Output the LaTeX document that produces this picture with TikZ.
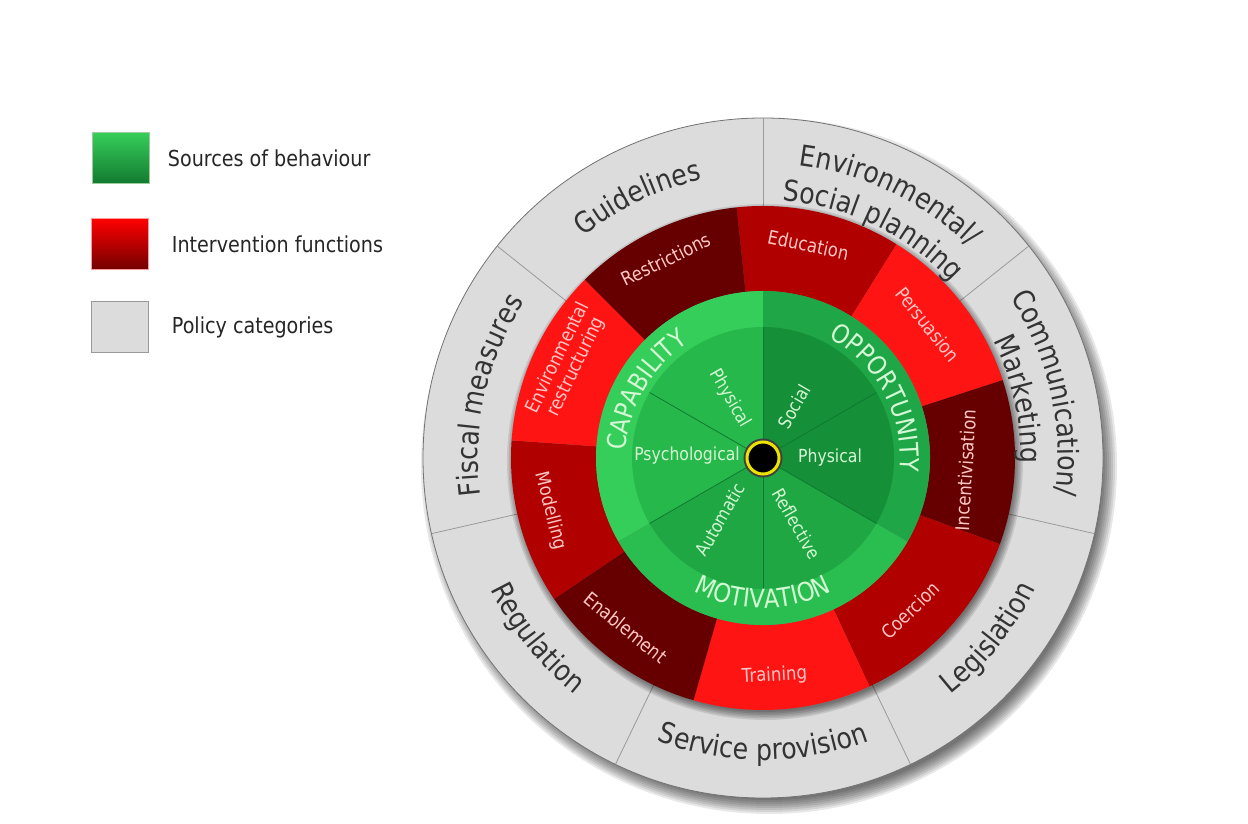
\documentclass[tikz,border=0pt]{standalone}
\usepackage{fontspec}
\setmainfont{DejaVu Sans}[FakeStretch=0.87]
\usepackage{xcolor}
\usepackage{tikz}
\usetikzlibrary{positioning,decorations.text}

\definecolor{polgray}{HTML}{DCDCDC}
\definecolor{polline}{HTML}{9A9A9A}
\definecolor{poltext}{HTML}{333333}
\definecolor{redB}{HTML}{FF1414}
\definecolor{redD}{HTML}{B00000}
\definecolor{redV}{HTML}{660000}
\definecolor{redtext}{HTML}{FFC6C6}
\definecolor{capband}{HTML}{36CE5A}
\definecolor{capin}{HTML}{27B84B}
\definecolor{oppband}{HTML}{1FA646}
\definecolor{oppin}{HTML}{168F39}
\definecolor{motband}{HTML}{2ABE50}
\definecolor{motin}{HTML}{1FA744}
\definecolor{greentext}{HTML}{D4F8D4}
\definecolor{greenline}{HTML}{0E7A30}

\newcommand{\poltxt}{\fontsize{29}{29}\selectfont\color{poltext}}
\newcommand{\srctxt}{\fontsize{26}{26}\selectfont\color{greentext}}

\begin{document}
\begin{tikzpicture}[x=1pt,y=1pt,
  arctext/.style={decorate,decoration={text along path,text align=center,text={#1}}},
  legbox/.style={minimum width=57pt,minimum height=51pt,inner sep=0pt,draw=#1},
  legtext/.style={text=black!85,font=\fontsize{22}{22}\selectfont,inner sep=0pt},
  fnlabel/.style={text=redtext,font=\fontsize{19}{20}\selectfont,align=center,inner sep=0pt},
  srclabel/.style={text=greentext,font=\fontsize{18}{18}\selectfont,inner sep=0pt}]
\useasboundingbox (0,0) rectangle (1248,824);
\fill[white] (0,0) rectangle (1248,824);

% legend
\node[legbox=green!50!black!40, top color=capband, bottom color=oppin!85!black] (srcbox) at (121,666) {};
\node[legtext, right=18pt of srcbox] (srcname) {Sources of behaviour};
\node[legbox=red!40, top color=red, bottom color=red!45!black] (fnbox) at (120,580) {};
\node[legtext, right=23pt of fnbox] (fnname) {Intervention functions};
\node[legbox=black!40, fill=polgray] (polbox) at (120,497) {};
\node[legtext, right=23pt of polbox] (polname) {Policy categories};

\begin{scope}[shift={(763,366)}]
% drop shadow
\foreach \i in {0,...,7}
  \fill[black,opacity=0.09] (6,-8) circle[radius={334pt+\i*2pt}];

% policy categories
\fill[polgray] (0,0) circle[radius=340pt];
\draw[black!55,line width=0.8pt] (0,0) circle[radius=340pt];
\foreach \i in {0,...,6}
  \draw[polline,line width=0.8pt] ({90-\i*360/7}:252pt) -- ({90-\i*360/7}:340pt);
\foreach \i in {0,...,5}
  \fill[black,opacity=0.1] (2,-4) circle[radius={250pt+\i*1.6pt}];

% intervention functions
\foreach \s/\e/\c in {96/58/redD, 58/18/redB, 18/-20/redV, -20/-65/redD, -65/-106/redB,
    -106/-146/redV, -146/-184/redD, -184/-225/redB, -225/-264/redV}
  \fill[\c] (\s:167pt) arc[start angle=\s,end angle=\e,radius=167pt]
    -- (\e:252pt) arc[start angle=\e,end angle=\s,radius=252pt] -- cycle;

% sources of behaviour
\foreach \s/\e/\c in {90/210/capband, 210/330/motband, -30/90/oppband}
  \fill[\c] (0,0) -- (\s:167pt) arc[start angle=\s,end angle=\e,radius=167pt] -- cycle;
\foreach \s/\c in {90/capin, 150/capin, 210/motin, 270/motin, 330/oppin, 30/oppin}
  \fill[\c] (0,0) -- (\s:131pt) arc[start angle=\s,end angle=\s+60,radius=131pt] -- cycle;
\foreach \a in {30,90,...,330}
  \draw[greenline,line width=0.8pt] (0,0) -- (\a:131pt);

\fill[black!75] (0,0) circle[radius=19.5pt];
\node[circle,fill=black,draw=yellow!85!olive,line width=3pt,minimum size=32pt,inner sep=0pt] (hub) at (0,0) {};

% policy labels
\path[arctext={|\poltxt|Guidelines}] (155.7:285pt) arc[start angle=155.7,end angle=75.7,radius=285pt];
\path[arctext={|\poltxt|Fiscal measures}] (207.1:285pt) arc[start angle=207.1,end angle=127.1,radius=285pt];
\path[arctext={|\poltxt|Environmental/}] (104.3:295pt) arc[start angle=104.3,end angle=24.3,radius=295pt];
\path[arctext={|\poltxt|Social planning}] (104.3:258pt) arc[start angle=104.3,end angle=24.3,radius=258pt];
\path[arctext={|\poltxt|Communication/}] (52.9:295pt) arc[start angle=52.9,end angle=-27.1,radius=295pt];
\path[arctext={|\poltxt|Marketing}] (52.9:258pt) arc[start angle=52.9,end angle=-27.1,radius=258pt];
\path[arctext={|\poltxt|Legislation}] (-78.6:302pt) arc[start angle=-78.6,end angle=1.4,radius=302pt];
\path[arctext={|\poltxt|Service provision}] (-130:302pt) arc[start angle=-130,end angle=-50,radius=302pt];
\path[arctext={|\poltxt|Regulation}] (-181.4:302pt) arc[start angle=-181.4,end angle=-101.4,radius=302pt];

% intervention labels
\node[fnlabel,rotate=-12] (educ) at (78:218pt) {Education};
\node[fnlabel,rotate=-51] (pers) at (39:212pt) {Persuasion};
\node[fnlabel,rotate=86.5] (incent) at (-3.5:203pt) {Incentivisation};
\node[fnlabel,rotate=44] (coerc) at (-46:212pt) {Coercion};
\node[fnlabel,rotate=3] (train) at (-87:218pt) {Training};
\node[fnlabel,rotate=-39] (enab) at (-129:218pt) {Enablement};
\node[fnlabel,rotate=-76] (model) at (-166:219pt) {Modelling};
\node[fnlabel,rotate=64] (envr) at (154:218pt) {Environmental\\restructuring};
\node[fnlabel,rotate=26] (restr) at (116:221pt) {Restrictions};

% source labels
\path[arctext={|\srctxt|CAPABILITY}] (195:137pt) arc[start angle=195,end angle=105,radius=137pt];
\path[arctext={|\srctxt|OPPORTUNITY}] (73:137pt) arc[start angle=73,end angle=-17,radius=137pt];
\path[arctext={|\srctxt|MOTIVATION}] (-135:150pt) arc[start angle=-135,end angle=-45,radius=150pt];
\node[srclabel,rotate=-60] (cphys) at (119:68pt) {Physical};
\node[srclabel] (cpsych) at (178:76pt) {Psychological};
\node[srclabel,rotate=60] (social) at (59:60pt) {Social};
\node[srclabel] (ophys) at (0:67pt) {Physical};
\node[srclabel,rotate=60] (auto) at (235:75pt) {Automatic};
\node[srclabel,rotate=-60] (refl) at (297:74pt) {Reflective};
\end{scope}
\end{tikzpicture}
\end{document}
